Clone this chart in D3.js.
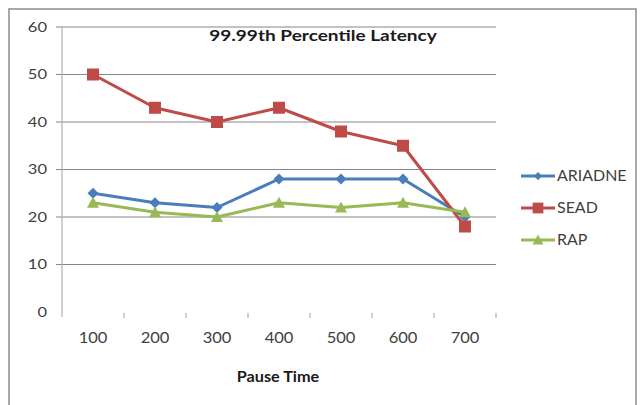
<!DOCTYPE html>
<html>
<head>
<meta charset="utf-8">
<script src="https://cdn.jsdelivr.net/npm/d3@7"></script>
<style>
  html, body { margin: 0; padding: 0; background: #fff; }
  svg { display: block; font-family: Lato, "Open Sans", sans-serif; }
</style>
</head>
<body>
<svg id="chart" width="643" height="405"></svg>
<script>
// Pause time categories and 99.99th percentile latency per protocol
const categories = ["100", "200", "300", "400", "500", "600", "700"];
const ariadne = [25, 23, 22, 28, 28, 28, 20];
const sead = [50, 43, 40, 43, 38, 35, 18];
const rap = [23, 21, 20, 23, 22, 23, 21];
const yTicks = [0, 10, 20, 30, 40, 50, 60];
const seriesNames = ["ARIADNE", "SEAD", "RAP"];

const series = [
  { name: seriesNames[0], values: ariadne, color: "#4a7ebb", marker: "diamond" },
  { name: seriesNames[1], values: sead, color: "#be4b48", marker: "square" },
  { name: seriesNames[2], values: rap, color: "#98b954", marker: "triangle" }
];

const svg = d3.select("#chart");
const plot = { left: 62, right: 496, top: 27, bottom: 312 };

// widen text glyphs horizontally by a factor, keeping the anchor point
function widen(sel, factor) {
  sel.each(function () {
    const len = this.getComputedTextLength();
    d3.select(this).attr("textLength", len * factor).attr("lengthAdjust", "spacingAndGlyphs");
  });
}

// outer frame
svg.append("rect")
  .attr("x", 9).attr("y", 9).attr("width", 627).attr("height", 410)
  .attr("fill", "none").attr("stroke", "#8c8c8c").attr("stroke-width", 1.5);

const x = d3.scaleBand().domain(categories).range([plot.left, plot.right]).padding(0);
const y = d3.scaleLinear().domain([0, 60]).range([plot.bottom, plot.top]);
const cx = c => x(c) + x.bandwidth() / 2;

// horizontal gridlines
svg.append("g").selectAll("line").data(yTicks.filter(t => t > 0)).join("line")
  .attr("x1", plot.left - 6).attr("x2", plot.right)
  .attr("y1", d => y(d)).attr("y2", d => y(d))
  .attr("stroke", "#868686").attr("stroke-width", 1.2);

// vertical axis line
svg.append("line")
  .attr("x1", plot.left).attr("x2", plot.left)
  .attr("y1", plot.top).attr("y2", plot.bottom + 5)
  .attr("stroke", "#b0b0b0").attr("stroke-width", 1.2);

// category tick marks at band boundaries
const bounds = categories.map(c => x(c)).slice(1).concat([plot.right]);
svg.append("g").selectAll("line").data(bounds).join("line")
  .attr("x1", d => d).attr("x2", d => d)
  .attr("y1", plot.bottom + 1).attr("y2", plot.bottom + 6)
  .attr("stroke", "#b0b0b0").attr("stroke-width", 1.2);

// y axis labels
const yAxis = svg.append("g")
  .attr("transform", `translate(${plot.left},0)`)
  .call(d3.axisLeft(y).tickValues(yTicks).tickSize(0).tickPadding(15));
yAxis.select(".domain").remove();
yAxis.selectAll("text").attr("font-size", 14).attr("fill", "#404040")
  .style("font-family", "Lato, sans-serif");
widen(yAxis.selectAll("text"), 1.18);

// x axis labels
const xAxis = svg.append("g")
  .attr("transform", `translate(0,${plot.bottom})`)
  .call(d3.axisBottom(x).tickSize(0).tickPadding(21));
xAxis.select(".domain").remove();
xAxis.selectAll("text").attr("font-size", 14.5).attr("fill", "#404040")
  .style("font-family", "Lato, sans-serif");
widen(xAxis.selectAll("text"), 1.14);

// axis title and chart title
const xTitle = svg.append("text")
  .attr("x", (plot.left + plot.right) / 2 - 1).attr("y", 382)
  .attr("text-anchor", "middle").attr("font-size", 14.5).attr("font-weight", "bold")
  .attr("fill", "#1a1a1a").text("Pause Time");
widen(xTitle, 1.12);

const title = svg.append("text")
  .attr("x", 323).attr("y", 41)
  .attr("text-anchor", "middle").attr("font-size", 16).attr("font-weight", "bold")
  .attr("fill", "#1a1a1a").text("99.99th Percentile Latency");
widen(title, 1.19);

function drawMarker(g, type, color, k) {
  if (type === "diamond") {
    const r = 5.5 * k;
    g.append("path").attr("d", `M0,${-r}L${r},0L0,${r}L${-r},0Z`).attr("fill", color);
  } else if (type === "square") {
    const h = 6 * k;
    g.append("rect").attr("x", -h).attr("y", -h).attr("width", 2 * h).attr("height", 2 * h).attr("fill", color);
  } else {
    const t = 6 * k;
    g.append("path").attr("d", `M0,${-t}L${t},${t * 0.85}L${-t},${t * 0.85}Z`).attr("fill", color);
  }
}

const line = d3.line().x((d, i) => cx(categories[i])).y(d => y(d));

series.forEach(s => {
  svg.append("path").datum(s.values)
    .attr("d", line).attr("fill", "none")
    .attr("stroke", s.color).attr("stroke-width", 3).attr("stroke-linejoin", "round");
});
series.forEach(s => {
  s.values.forEach((v, i) => {
    const g = svg.append("g").attr("transform", `translate(${cx(categories[i])},${y(v)})`);
    drawMarker(g, s.marker, s.color, 1);
  });
});

// legend
const legend = svg.append("g");
series.forEach((s, i) => {
  const ly = 176 + i * 32;
  const g = legend.append("g").attr("transform", `translate(0,${ly})`);
  g.append("line").attr("x1", 521).attr("x2", 555).attr("y1", 0).attr("y2", 0)
    .attr("stroke", s.color).attr("stroke-width", 3);
  const m = g.append("g").attr("transform", "translate(538,0)");
  drawMarker(m, s.marker, s.color, s.marker === "diamond" ? 0.75 : 0.9);
  const t = g.append("text").attr("x", 557).attr("y", 0).attr("dy", "0.35em")
    .attr("font-size", 14.5).attr("fill", "#404040").text(s.name);
  widen(t, 1.1);
});
</script>
</body>
</html>
